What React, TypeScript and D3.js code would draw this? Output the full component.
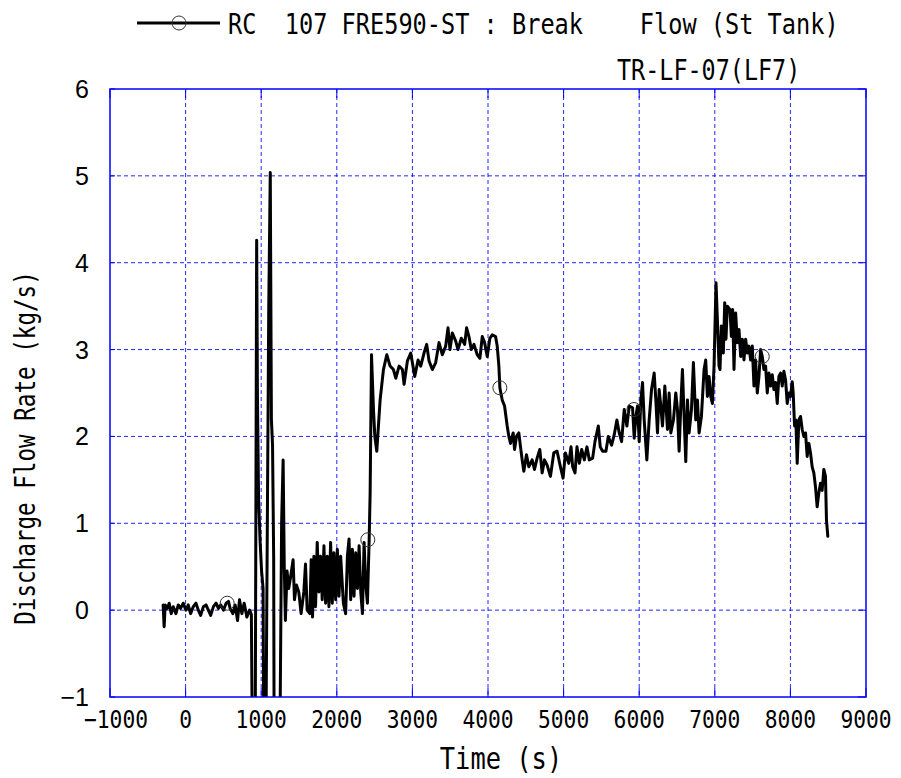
import React from "react";
import * as d3 from "d3";

const time: number[] = [
  -297, -284, -270, -244, -217, -190, -164, -128, -97, -66, -31, 4, 35, 66, 102, 137, 168, 199, 235, 270,
  301, 332, 368, 403, 434, 465, 501, 536, 567, 589, 625, 656, 687, 713, 744, 775, 811, 846, 870,
  885, 920, 940, 950, 965, 985, 1005, 1025, 1035, 1060, 1085, 1100, 1120, 1135, 1150, 1165, 1172, 1245, 1270, 1290, 1305, 1320,
  1342, 1364, 1387, 1422, 1440, 1466, 1497, 1528, 1564, 1586, 1608, 1644, 1661, 1679, 1697, 1719, 1741, 1763, 1785, 1807,
  1830, 1852, 1874, 1896, 1918, 1940, 1962, 1985, 2007, 2029, 2051, 2087, 2117, 2140, 2162, 2184, 2206, 2228, 2250, 2273,
  2295, 2317, 2339, 2361, 2383, 2405,
  2428, 2441, 2459, 2485, 2503, 2529, 2573, 2617, 2661, 2705, 2749, 2780, 2824, 2868, 2890, 2934, 2978, 3031, 3075, 3110,
  3154, 3189, 3220, 3264, 3308, 3352, 3396, 3440, 3471, 3497, 3528, 3572, 3603, 3647, 3691, 3717, 3748, 3779, 3814, 3858,
  3893, 3924, 3955, 3990, 4025, 4056, 4100, 4122, 4144, 4157, 4188, 4219, 4254, 4276, 4298, 4333, 4351, 4377, 4408, 4430,
  4452, 4474, 4509, 4540, 4584, 4615, 4650, 4685, 4716, 4747, 4782, 4826, 4870, 4914, 4958, 4993, 5024, 5068,
  5098, 5120, 5151, 5177, 5208, 5239, 5274, 5309, 5340, 5384, 5415, 5459, 5485, 5516, 5560, 5591, 5635, 5670, 5705, 5736,
  5767, 5802, 5837, 5868, 5912, 5934, 5956, 5978, 6000, 6022, 6044, 6066, 6101, 6132, 6163, 6198, 6220, 6242, 6264, 6286,
  6308, 6339, 6374, 6396, 6418, 6453, 6484, 6506, 6528, 6550, 6572, 6594, 6616, 6638, 6660, 6691, 6717, 6748, 6770, 6792,
  6823, 6858, 6880, 6902, 6924, 6946, 6968, 6990, 7016, 7034, 7056, 7069, 7087, 7113, 7131, 7148, 7166, 7201, 7219, 7236,
  7254, 7276, 7298, 7320, 7342, 7364, 7386, 7408, 7430, 7452, 7474, 7496, 7518, 7540, 7562, 7584, 7606, 7628, 7650, 7672,
  7694, 7716, 7738, 7760, 7782, 7804, 7826, 7848, 7870, 7892, 7914, 7936, 7958, 7980, 8002, 8024, 8037, 8055, 8072, 8090,
  8112, 8134, 8156, 8178, 8200, 8222, 8244, 8266, 8288, 8310, 8332, 8354, 8376, 8398, 8420, 8442, 8464, 8477, 8495,
];

const flow: number[] = [
  0.06, -0.19, 0.06, 0.02, 0.08, -0.04, 0.04, -0.04, 0.06, 0.02, 0.08, 0.0, 0.06, -0.04, 0.04, 0.08, 0.0, -0.06, 0.04, 0.06,
  0.0, -0.06, 0.04, 0.08, 0.02, 0.06, 0.0, 0.08, 0.1, 0.02, -0.04, 0.06, -0.12, 0.12, -0.04, 0.08, -0.08, 0.0, -0.05,
  -1.8, -1.8, 4.26, 2.5, 1.3, 0.8, 0.45, 0.25, -1.8, -1.8, 1.5, 3.5, 5.04, 2.2, 1.9, 0.6, -1.8, -1.8, 1.0, 1.73, 0.5, -0.12,
  0.45, 0.25, 0.37, 0.58, 0.12, 0.29, 0.21, -0.04, 0.21, 0.53, 0.0, -0.04, 0.58, -0.08, 0.62, 0.04, 0.78, 0.21, 0.62, 0.12,
  0.74, 0.08, 0.62, 0.04, 0.78, 0.08, 0.66, 0.12, 0.7, 0.16, 0.62, 0.08, -0.04, 0.62, 0.82, 0.12, 0.7, 0.16, 0.66, 0.25,
  0.74, 0.21, -0.04, 0.78, 0.29, 0.08,
  0.81, 1.35, 2.94, 2.31, 2.0, 1.83, 2.42, 2.77, 2.94, 2.81, 2.77, 2.67, 2.81, 2.77, 2.6, 2.87, 2.96, 2.69, 2.88, 2.81,
  2.96, 3.06, 2.87, 2.77, 2.85, 3.08, 2.94, 3.04, 3.25, 3.0, 3.19, 3.1, 3.0, 3.13, 3.06, 3.25, 3.15, 3.0, 3.06, 2.94,
  2.9, 3.15, 3.08, 2.92, 3.13, 3.17, 3.15, 3.04, 2.81, 2.56, 2.42, 2.35, 2.12, 2.0, 1.92, 2.04, 1.85, 2.0, 2.04, 1.88,
  1.73, 1.6, 1.79, 1.65, 1.73, 1.62, 1.75, 1.85, 1.58, 1.73, 1.67, 1.54, 1.81, 1.83, 1.65, 1.52, 1.81, 1.69,
  1.88, 1.65, 1.58, 1.88, 1.69, 1.85, 1.73, 1.88, 1.73, 1.75, 1.94, 2.12, 1.88, 1.83, 1.83, 2.0, 1.9, 2.02, 2.19, 2.04,
  1.94, 2.31, 2.12, 2.35, 2.33, 1.98, 2.23, 2.35, 1.94, 2.42, 2.62, 2.19, 1.73, 2.19, 2.54, 2.73, 2.42, 2.04, 2.54, 2.35,
  2.12, 2.58, 2.08, 2.5, 2.04, 2.19, 2.5, 2.31, 1.83, 2.35, 2.77, 2.23, 1.71, 2.42, 2.04, 2.31, 2.85, 2.19, 2.42, 2.04,
  2.23, 2.77, 2.88, 2.46, 2.69, 2.46, 2.38, 2.81, 3.77, 3.35, 2.81, 2.77, 3.27, 2.96, 3.54, 3.12, 3.5, 3.46, 3.15, 3.46,
  2.77, 3.42, 3.08, 3.23, 2.92, 3.12, 2.88, 3.12, 2.96, 3.04, 2.88, 3.04, 2.58, 2.88, 2.5, 2.69, 3.0, 2.92, 2.77, 2.81,
  2.5, 2.73, 2.58, 2.71, 2.54, 2.62, 2.38, 2.69, 2.73, 2.58, 2.75, 2.65, 2.38, 2.5, 2.46, 2.63, 2.5, 2.12, 2.19, 1.69,
  2.19, 2.23, 2.08, 2.0, 2.04, 1.77, 1.92, 1.81, 1.65, 1.58, 1.42, 1.19, 1.35, 1.46, 1.38, 1.62, 1.54, 1.04, 0.85,
];

const markerTime: number[] = [550, 2410, 4157, 5930, 7628];
const markerFlow: number[] = [0.08, 0.81, 2.56, 2.31, 2.92];

const xTicks: number[] = [-1000, 0, 1000, 2000, 3000, 4000, 5000, 6000, 7000, 8000, 9000];
const yTicks: number[] = [-1, 0, 1, 2, 3, 4, 5, 6];

// legend label pieces with their character column (monospaced layout)
const legendWords: string[] = ["RC", "107 FRE590-ST", ": Break", "Flow", "(St Tank)"];
const legendCols: number[] = [0, 4, 18, 29, 34];
const caseLabel = "TR-LF-07(LF7)";
const xTitle = "Time (s)";
const yTitle = "Discharge Flow Rate (kg/s)";

const W = 901;
const H = 778;
const L = 110;
const R = 866;
const T = 89;
const B = 697;
const BLUE = "#0000ff";
const MONO = "'DejaVu Sans Mono', 'Liberation Mono', monospace";
const MONO_ADV = 0.602; // advance width of DejaVu Sans Mono in em

function fmt(v: number): string {
  return v < 0 ? "\u2212" + Math.abs(v) : String(v);
}

// Monospaced text with a chosen advance per character, stretched vertically
// to reach the visual height of a font of `size` px (tall, narrow glyphs).
function Mono(props: {
  x: number; y: number; text: string; size: number; adv: number;
  anchor?: string; rotate?: number;
}) {
  const { x, y, text, size, adv, anchor = "start", rotate } = props;
  const fs = adv / MONO_ADV;
  const sy = size / fs;
  const parts: string[] = [];
  if (rotate !== undefined) parts.push(`rotate(${rotate},${x},${y})`);
  parts.push(`translate(${x},${y}) scale(1,${sy.toFixed(4)}) translate(${-x},${-y})`);
  return (
    <text
      x={x}
      y={y}
      fontFamily={MONO}
      fontSize={fs}
      textAnchor={anchor}
      textLength={text.length * adv}
      lengthAdjust="spacingAndGlyphs"
      fill="#000"
      style={{ whiteSpace: "pre" }}
      transform={parts.join(" ")}
    >
      {text}
    </text>
  );
}

export default function App() {
  const x = d3.scaleLinear().domain([-1000, 9000]).range([L, R]);
  const y = d3.scaleLinear().domain([-1, 6]).range([B, T]);

  const pts: [number, number][] = time.map((t, i) => [t, flow[i]]);
  const line = d3
    .line<[number, number]>()
    .x((d) => x(d[0]))
    .y((d) => y(d[1]));

  const legendX = 228;
  const legendAdv = 14.2;

  return (
    <svg
      width={W}
      height={H}
      viewBox={`0 0 ${W} ${H}`}
      style={{ position: "absolute", left: 0, top: 0, background: "#fff" }}
    >
      <defs>
        <clipPath id="plotclip">
          <rect x={L} y={T} width={R - L} height={B - T} />
        </clipPath>
      </defs>
      <rect x={0} y={0} width={W} height={H} fill="#fff" />

      {/* grid */}
      {xTicks.slice(1, -1).map((t) => (
        <line key={"gx" + t} x1={x(t)} x2={x(t)} y1={T} y2={B}
          stroke={BLUE} strokeWidth={1} strokeDasharray="4,3" opacity={0.85} />
      ))}
      {yTicks.slice(1, -1).map((v) => (
        <line key={"gy" + v} x1={L} x2={R} y1={y(v)} y2={y(v)}
          stroke={BLUE} strokeWidth={1} strokeDasharray="4,3" opacity={0.85} />
      ))}

      {/* ticks */}
      {xTicks.map((t) => (
        <g key={"tx" + t}>
          <line x1={x(t)} x2={x(t)} y1={T} y2={T + 9} stroke={BLUE} strokeWidth={1} />
          <line x1={x(t)} x2={x(t)} y1={B} y2={B - 9} stroke={BLUE} strokeWidth={1} />
        </g>
      ))}
      {yTicks.map((v) => (
        <g key={"ty" + v}>
          <line x1={L} x2={L + 5} y1={y(v)} y2={y(v)} stroke={BLUE} strokeWidth={1} />
          <line x1={R} x2={R - 8} y1={y(v)} y2={y(v)} stroke={BLUE} strokeWidth={1} />
        </g>
      ))}

      {/* data */}
      <g clipPath="url(#plotclip)">
        <path d={line(pts) || ""} fill="none" stroke="#000" strokeWidth={3}
          strokeLinejoin="round" strokeLinecap="round" />
        {markerTime.map((t, i) => (
          <circle key={"m" + i} cx={x(t)} cy={y(markerFlow[i])} r={7}
            fill="none" stroke="#333" strokeWidth={1} />
        ))}
      </g>

      {/* frame */}
      <rect x={L} y={T} width={R - L} height={B - T} fill="none" stroke={BLUE} strokeWidth={1.5} />

      {/* tick labels */}
      {xTicks.map((t) => (
        <Mono key={"lx" + t} x={x(t) + (t < 0 ? 6 : 0)} y={728} text={fmt(t)} size={25} adv={12.8} anchor="middle" />
      ))}
      {yTicks.map((v) => (
        <text key={"ly" + v} x={89} y={y(v)} dy="0.36em" textAnchor="end"
          fontFamily="'Liberation Sans', Arial, sans-serif" fontSize={25} fill="#000">
          {fmt(v)}
        </text>
      ))}

      {/* axis titles */}
      <Mono x={501} y={769} text={xTitle} size={31} adv={15.3} anchor="middle" />
      <Mono x={35} y={448} text={yTitle} size={28} adv={13.6} anchor="middle" rotate={-90} />

      {/* legend */}
      <line x1={137} x2={220} y1={23} y2={23} stroke="#000" strokeWidth={3} />
      <circle cx={179} cy={23} r={7} fill="none" stroke="#333" strokeWidth={1} />
      {legendWords.map((w, i) => (
        <Mono key={"lg" + i} x={legendX + legendCols[i] * legendAdv} y={34} text={w} size={29} adv={legendAdv} />
      ))}
      <Mono x={617} y={80} text={caseLabel} size={29} adv={14.1} />
    </svg>
  );
}
